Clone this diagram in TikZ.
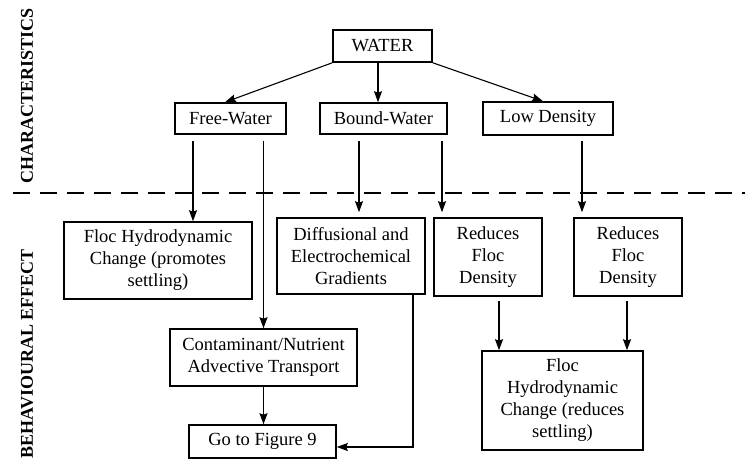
\documentclass[tikz,border=0pt]{standalone}
\usepackage{fontspec}
\setmainfont{Liberation Serif}
\usetikzlibrary{arrows.meta}
\begin{document}
\begin{tikzpicture}[x=1pt,y=-1pt,
  box/.style={draw,line width=1.6pt,inner sep=0pt,align=center,
    font=\fontsize{18.5}{22}\selectfont},
  arr/.style={line width=1.1pt,-{Stealth[length=11pt,width=8pt,inset=1.5pt]}},
  side/.style={rotate=90,inner sep=0pt,font=\fontsize{18}{22}\selectfont\bfseries},
  divider/.style={line width=1.3pt,dash pattern=on 17pt off 10pt}]
\useasboundingbox[fill=white] (0,0) rectangle (745,467);

% side headings
\node[side] (hc) at (27,96) {CHARACTERISTICS};
\node[side] (hb) at (27,354) {BEHAVIOURAL EFFECT};

% boundary between characteristics and effects
\coordinate (dl) at (13,193);
\coordinate (dr) at (745,193);
\draw[divider] (dl) -- (dr);

% characteristics
\node[box,minimum width=99pt,minimum height=32pt] (water) at (382.5,46) {WATER};
\node[box,minimum width=111pt,minimum height=31pt] (fw) at (230.5,118.5) {Free-Water};
\node[box,minimum width=127pt,minimum height=31pt] (bw) at (383.5,118.5) {Bound-Water};
\node[box,minimum width=130pt,minimum height=33pt] (ld) at (548,118.5) {Low Density};

% behavioural effects
\node[box,minimum width=188pt,minimum height=77pt] (fh1) at (158,260.5)
  {Floc Hydrodynamic\\Change (promotes\\settling)};
\node[box,minimum width=148pt,minimum height=76pt] (df) at (351,256)
  {Diffusional and\\Electrochemical\\Gradients};
\node[box,minimum width=108pt,minimum height=78pt] (r1) at (488,257)
  {Reduces\\Floc\\Density};
\node[box,minimum width=108pt,minimum height=78pt] (r2) at (628,257)
  {Reduces\\Floc\\Density};
\node[box,minimum width=187pt,minimum height=57pt] (ct) at (263.5,357.5)
  {Contaminant/Nutrient\\Advective Transport};
\node[box,minimum width=147pt,minimum height=33pt] (go) at (262.5,441.5)
  {Go to Figure 9};
\node[box,minimum width=161pt,minimum height=99pt] (fh2) at (562.5,400.5)
  {Floc\\Hydrodynamic\\Change (reduces\\settling)};

% WATER splits into three characteristics
\draw[arr] (water.south west) -- ([xshift=-5.5pt]fw.north);
\draw[arr] ([xshift=-4.5pt]water.south) -- ([xshift=-4.5pt]water.south |- bw.north);
\draw[arr] (water.south east) -- ([xshift=-5pt]ld.north);

% Free-Water
\draw[arr,shorten <=6pt] ([xshift=-37.5pt]fw.south) -- ([xshift=-37.5pt]fw.south |- fh1.north);
\draw[arr,shorten <=6pt] (fw.south -| ct.north) -- (ct.north);

% Bound-Water
\draw[arr,shorten <=6pt,shorten >=5pt] ([xshift=-24.5pt]bw.south) -- ([xshift=-24.5pt]bw.south |- df.north);
\draw[arr,shorten <=6pt,shorten >=5pt] ([xshift=58.5pt]bw.south) -- ([xshift=58.5pt]bw.south |- r1.north);

% Low Density
\draw[arr,shorten <=5pt,shorten >=5pt] ([xshift=34pt]ld.south) -- ([xshift=34pt]ld.south |- r2.north);

% lower level
\draw[arr] (ct.south) -- (ct.south |- go.north);
\draw[arr] ([xshift=62pt]df.south) |- ([yshift=-5.5pt]go.east);
\draw[arr,shorten <=4pt] ([xshift=11pt]r1.south) -- ([xshift=11pt]r1.south |- fh2.north);
\draw[arr,shorten <=4pt] ([xshift=-1pt]r2.south) -- ([xshift=-1pt]r2.south |- fh2.north);
\end{tikzpicture}
\end{document}
